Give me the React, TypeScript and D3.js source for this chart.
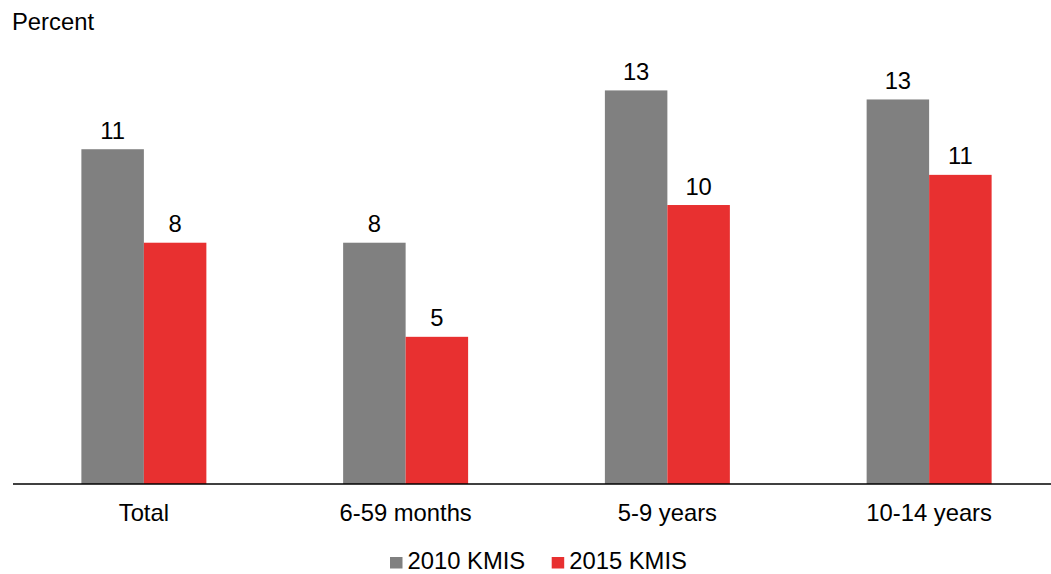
import React from "react";
import * as d3 from "d3";

const categories = ["Total", "6-59 months", "5-9 years", "10-14 years"];
const seriesNames = ["2010 KMIS", "2015 KMIS"];
const values2010 = [11.1, 8.0, 13.05, 12.75];
const values2015 = [8.0, 4.88, 9.25, 10.25];
const labels2010 = ["11", "8", "13", "13"];
const labels2015 = ["8", "5", "10", "11"];
const colors = ["#808080", "#E83030"];

const W = 1051;
const H = 574;
const FONT = "Liberation Sans, Arial, sans-serif";
const FS = 23.8;

export default function App() {
  const base = 484;
  const x = d3.scaleBand<string>().domain(categories).range([13, 1060]).paddingInner(0.5225).paddingOuter(0.26125);
  const inner = d3.scaleBand<string>().domain(seriesNames).range([0, x.bandwidth()]);
  const y = d3.scaleLinear().domain([0, 16]).range([base, base - 16 * 30.16]);
  const series = [
    { name: seriesNames[0], vals: values2010, labels: labels2010, color: colors[0] },
    { name: seriesNames[1], vals: values2015, labels: labels2015, color: colors[1] },
  ];
  const legendX = [390, 551.7];
  return (
    <svg width={W} height={H} style={{ position: "absolute", left: 0, top: 0, background: "#fff" }} fontFamily={FONT}>
      <text x={12} y={30} fontSize={FS} fill="#000">Percent</text>
      {series.map((s) =>
        categories.map((c, i) => {
          const bx = (x(c) as number) + (inner(s.name) as number);
          const by = y(s.vals[i]);
          return (
            <g key={s.name + c}>
              <rect x={bx} y={by} width={inner.bandwidth()} height={base - by} fill={s.color} />
              <text x={bx + inner.bandwidth() / 2} y={by - 10.5} textAnchor="middle" fontSize={FS} fill="#000">
                {s.labels[i]}
              </text>
            </g>
          );
        })
      )}
      <line x1={13} x2={W} y1={base} y2={base} stroke="#000" strokeWidth={1.5} />
      {categories.map((c) => (
        <text key={c} x={(x(c) as number) + x.bandwidth() / 2} y={520.5} textAnchor="middle" fontSize={FS} fill="#000">
          {c}
        </text>
      ))}
      {series.map((s, i) => (
        <g key={s.name}>
          <rect x={legendX[i]} y={557} width={12.5} height={11.5} fill={s.color} />
          <text x={legendX[i] + 17.5} y={569} fontSize={FS} fill="#000">{s.name}</text>
        </g>
      ))}
    </svg>
  );
}
